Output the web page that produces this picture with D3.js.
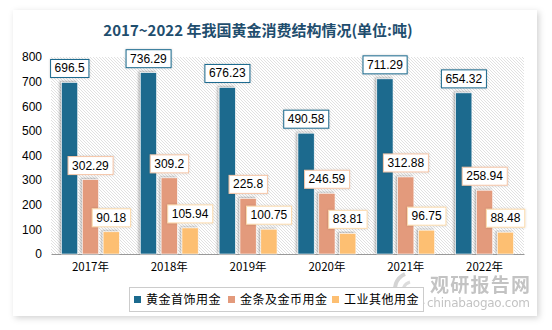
<!DOCTYPE html>
<html><head><meta charset="utf-8">
<script src="https://cdn.jsdelivr.net/npm/d3@7"></script>
<style>body{margin:0;background:#fff;}svg{display:block;}</style>
</head><body>
<script>
const years = ["2017年","2018年","2019年","2020年","2021年","2022年"];
const seriesNames = ["黄金首饰用金","金条及金币用金","工业其他用金"];
const jewelry = [696.5, 736.29, 676.23, 490.58, 711.29, 654.32];
const barCoin = [302.29, 309.2, 225.8, 246.59, 312.88, 258.94];
const industry = [90.18, 105.94, 100.75, 83.81, 96.75, 88.48];
const yTicks = [0,100,200,300,400,500,600,700,800];
const colors = ["#1B6A8E","#E39A7C","#FDBF72"];
const labelBorders = ["#1B6A8E","#F6C7A9","#FDDCAE"];
const series = [jewelry, barCoin, industry];

const W=552,H=330;
const svg=d3.select("body").append("svg").attr("width",W).attr("height",H);
const defs=svg.append("defs");
const cs=defs.append("filter").attr("id","cardShadow").attr("x","-5%").attr("y","-5%").attr("width","110%").attr("height","110%");
cs.append("feDropShadow").attr("dx",2).attr("dy",2).attr("stdDeviation",3).attr("flood-color","#000").attr("flood-opacity",0.18);
const bs=defs.append("filter").attr("id","barShadow").attr("x","-50%").attr("y","-10%").attr("width","200%").attr("height","120%");
bs.append("feDropShadow").attr("dx",-1.5).attr("dy",-1).attr("stdDeviation",1.2).attr("flood-color","#000").attr("flood-opacity",0.3);
const ls=defs.append("filter").attr("id","lblShadow").attr("x","-20%").attr("y","-30%").attr("width","140%").attr("height","160%");
ls.append("feDropShadow").attr("dx",0).attr("dy",0).attr("stdDeviation",1.2).attr("flood-color","#000").attr("flood-opacity",0.2);
const pat=defs.append("pattern").attr("id","hatch").attr("patternUnits","userSpaceOnUse").attr("width",3).attr("height",3);
pat.append("rect").attr("width",3).attr("height",3).attr("fill","#fff");
pat.append("path").attr("d","M0,0 L3,3 M-1,2 L1,4 M2,-1 L4,1").attr("stroke","#d9d9d9").attr("stroke-width",0.8);

// card
svg.append("rect").attr("x",13).attr("y",10).attr("width",524).attr("height",306).attr("fill","#fff").attr("filter","url(#cardShadow)");

// title
svg.append("text").attr("x",258).attr("y",36).attr("text-anchor","middle")
  .attr("font-family","'Noto Sans CJK SC','DejaVu Serif',serif").attr("font-weight","bold").attr("font-size",15)
  .attr("fill","#1F4E6E").text("2017~2022 年我国黄金消费结构情况(单位:吨)");

const plotL=51, plotR=524, plotT=57, plotB=254;
const x=d3.scaleBand().domain(years).range([plotL,plotR]).paddingInner(0).paddingOuter(0);
const y=d3.scaleLinear().domain([0,800]).range([plotB,plotT]);

svg.append("rect").attr("x",plotL).attr("y",plotT).attr("width",plotR-plotL).attr("height",plotB-plotT).attr("fill","url(#hatch)");

// y axis
const yAxis=svg.append("g").attr("transform",`translate(${plotL},0)`)
  .call(d3.axisLeft(y).tickValues(yTicks).tickSize(0).tickPadding(9).tickFormat(d3.format("d")));
yAxis.select(".domain").remove();
yAxis.selectAll("text").attr("font-family","'Liberation Sans',Arial,sans-serif").attr("font-size",12).attr("fill","#000");

// watermark (drawn under axis labels)
const wm=svg.append("g").attr("opacity",0.5);
wm.append("path").attr("d","M405,274 A18,15 0 1,0 424,302").attr("fill","none").attr("stroke","#aaa").attr("stroke-width",4);
wm.append("path").attr("d","M410,282 A10,9 0 1,0 420,297").attr("fill","none").attr("stroke","#bbb").attr("stroke-width",3);
wm.append("text").attr("x",430).attr("y",292).attr("font-family","'Noto Sans CJK SC',sans-serif").attr("font-weight","bold")
  .attr("font-size",19).attr("textLength",100).attr("fill","#888").text("观研报告网");
wm.append("text").attr("x",427).attr("y",307).attr("font-family","'DejaVu Sans',sans-serif")
  .attr("font-size",12).attr("fill","#888").attr("textLength",103).text("chinabaogao.com");

// x axis
const xAxis=svg.append("g").attr("transform",`translate(0,${plotB})`)
  .call(d3.axisBottom(x).tickSize(0).tickPadding(9));
xAxis.select(".domain").attr("stroke","#999").attr("stroke-width",1);
xAxis.selectAll("text").attr("font-family","'Noto Sans CJK SC',sans-serif").attr("font-size",11.5).attr("fill","#000");

const inner=d3.scaleBand().domain([0,1,2]).range([0,60]).paddingInner(0.22).paddingOuter(0.05);
const off=(x.bandwidth()-60)/2;

series.forEach((vals,si)=>{
  const g=svg.append("g");
  g.selectAll("rect").data(vals).join("rect")
    .attr("x",(d,i)=>x(years[i])+off+inner(si))
    .attr("y",d=>y(d)).attr("width",inner.bandwidth()).attr("height",d=>plotB-y(d))
    .attr("fill",colors[si]).attr("stroke","#fff").attr("stroke-width",0.6).attr("filter","url(#barShadow)");
});

series.forEach((vals,si)=>{
  vals.forEach((v,i)=>{
    const cx=x(years[i])+off+inner(si)+inner.bandwidth()/2;
    const txt=String(v);
    const g=svg.append("g");
    const t=g.append("text").attr("x",cx).attr("y",y(v)-10).attr("text-anchor","middle")
      .attr("font-family","'Liberation Sans',Arial,sans-serif").attr("font-size",12).attr("fill","#000").text(txt);
    const bb=t.node().getBBox();
    g.insert("rect","text").attr("x",bb.x-4).attr("y",y(v)-23).attr("width",bb.width+8).attr("height",18)
      .attr("fill","#fff").attr("stroke",labelBorders[si]).attr("stroke-width",1).attr("filter","url(#lblShadow)");
  });
});

// legend
const lg=svg.append("g");
lg.append("rect").attr("x",129.5).attr("y",287.5).attr("width",294).attr("height",24).attr("fill","#fff").attr("stroke","#ccc");
const lx=[134,228,332];
seriesNames.forEach((n,i)=>{
  lg.append("rect").attr("x",lx[i]).attr("y",296).attr("width",7).attr("height",7).attr("fill",colors[i]);
  lg.append("text").attr("x",lx[i]+12).attr("y",304).attr("font-family","'Noto Sans CJK SC',sans-serif")
    .attr("font-size",12).attr("letter-spacing",0.5).attr("fill","#000").text(n);
});
</script>
</body></html>
